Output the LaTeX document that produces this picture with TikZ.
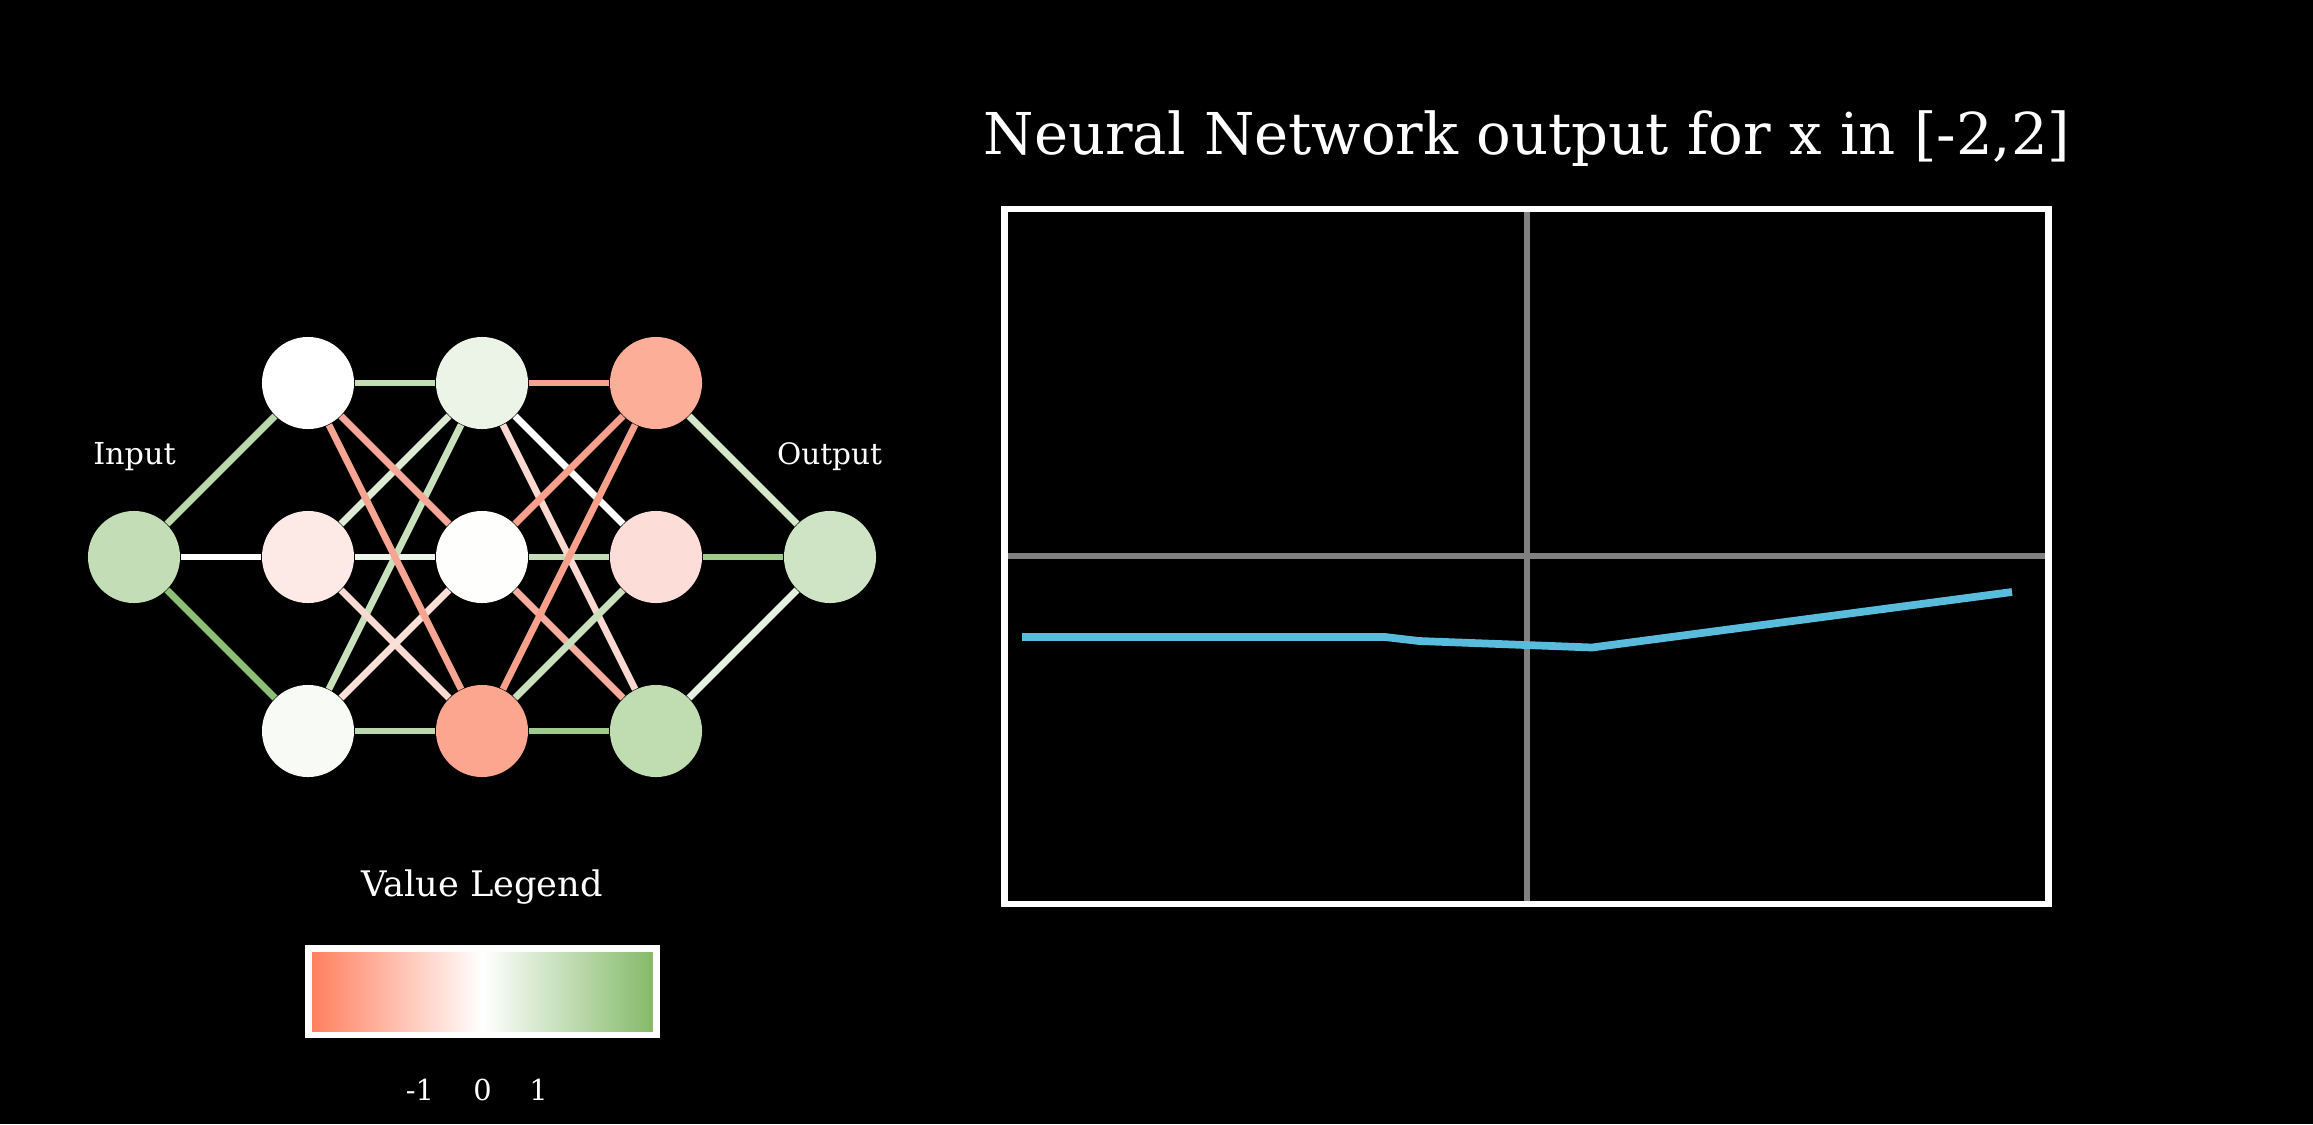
\documentclass[tikz,border=0pt]{standalone}
\usepackage{fontspec}
\setmainfont{DejaVu Serif}
\usetikzlibrary{backgrounds}
\definecolor{nI}{HTML}{C3DEB6}
\definecolor{nAa}{HTML}{FFFFFF}
\definecolor{nAb}{HTML}{FDEAE6}
\definecolor{nAc}{HTML}{F7FAF5}
\definecolor{nBa}{HTML}{EBF4E7}
\definecolor{nBb}{HTML}{FEFEFC}
\definecolor{nBc}{HTML}{FCA690}
\definecolor{nCa}{HTML}{FDAE98}
\definecolor{nCb}{HTML}{FDDDD8}
\definecolor{nCc}{HTML}{C0DDB1}
\definecolor{nO}{HTML}{CEE4C4}
\definecolor{legred}{HTML}{FF7F5E}
\definecolor{leggreen}{HTML}{84BA69}
\definecolor{curveblue}{HTML}{5ABCDC}
\definecolor{axisgray}{HTML}{808080}
\begin{document}
\begin{tikzpicture}[x=0.01cm,y=-0.01cm,
  neuron/.style={circle, minimum size=0.92cm, inner sep=0pt, draw=none},
  wire/.style={line width=1.95pt},
  lbl/.style={text=white, inner sep=0pt, anchor=base},
  frame/.style={draw=white, line width=1.9pt},
  axisline/.style={draw=axisgray, line width=1.85pt}]
% neurons
\node[neuron, fill=nI]  (i)  at (134,557) {};
\node[neuron, fill=nAa] (a1) at (308,383) {};
\node[neuron, fill=nAb] (a2) at (308,557) {};
\node[neuron, fill=nAc] (a3) at (308,731) {};
\node[neuron, fill=nBa] (b1) at (482,383) {};
\node[neuron, fill=nBb] (b2) at (482,557) {};
\node[neuron, fill=nBc] (b3) at (482,731) {};
\node[neuron, fill=nCa] (c1) at (656,383) {};
\node[neuron, fill=nCb] (c2) at (656,557) {};
\node[neuron, fill=nCc] (c3) at (656,731) {};
\node[neuron, fill=nO]  (o)  at (830,557) {};
\begin{scope}[on background layer]
\fill[black] (0,0) rectangle (2313,1124);
\draw[wire, color={rgb,255:red,187;green,216;blue,172}] (i) -- (a1);
\draw[wire, color=white] (i) -- (a2);
\draw[wire, color={rgb,255:red,140;green,191;blue,115}] (i) -- (a3);
\draw[wire, color={rgb,255:red,196;green,221;blue,182}] (a1) -- (b1);
\draw[wire, color={rgb,255:red,238;green,245;blue,234}] (a2) -- (b2);
\draw[wire, color={rgb,255:red,188;green,217;blue,174}] (a3) -- (b3);
\draw[wire, color={rgb,255:red,221;green,235;blue,213}] (a2) -- (b1);
\draw[wire, color={rgb,255:red,200;green,224;blue,188}] (a3) -- (b1);
\draw[wire, color={rgb,255:red,250;green,218;blue,211}] (a2) -- (b3);
\draw[wire, color={rgb,255:red,251;green,224;blue,218}] (a3) -- (b2);
\draw[wire, color={rgb,255:red,245;green,168;blue,152}] (a1) -- (b2);
\draw[wire, color={rgb,255:red,246;green,165;blue,147}] (a1) -- (b3);
\draw[wire, color={rgb,255:red,247;green,163;blue,144}] (b1) -- (c1);
\draw[wire, color={rgb,255:red,196;green,221;blue,183}] (b2) -- (c2);
\draw[wire, color={rgb,255:red,159;green,202;blue,139}] (b3) -- (c3);
\draw[wire, color=white] (b1) -- (c2);
\draw[wire, color={rgb,255:red,249;green,216;blue,209}] (b1) -- (c3);
\draw[wire, color={rgb,255:red,247;green,173;blue,158}] (b2) -- (c3);
\draw[wire, color={rgb,255:red,201;green,224;blue,190}] (b3) -- (c2);
\draw[wire, color={rgb,255:red,248;green,160;blue,139}] (b2) -- (c1);
\draw[wire, color={rgb,255:red,247;green,160;blue,140}] (b3) -- (c1);
\draw[wire, color={rgb,255:red,213;green,231;blue,203}] (c1) -- (o);
\draw[wire, color={rgb,255:red,159;green,203;blue,138}] (c2) -- (o);
\draw[wire, color={rgb,255:red,230;green,240;blue,224}] (c3) -- (o);
\end{scope}
% labels
\node[lbl, font=\fontsize{8.6}{10}\selectfont] (inlbl) at (134.5,464) {Input};
\node[lbl, font=\fontsize{8.4}{10}\selectfont] (outlbl) at (829.5,464) {Output};
\node[lbl, font=\fontsize{10}{12}\selectfont] (leglbl) at (482,896.7) {Value Legend};
% legend bar
\shade[left color=legred, right color=leggreen, middle color=white] (311.7,951.7) rectangle (653.3,1031.7);
\draw[frame] (308.5,948.5) rectangle (656.5,1035);
\node[lbl, font=\fontsize{8.2}{10}\selectfont] (lm1) at (420,1100) {-1};
\node[lbl, font=\fontsize{8.2}{10}\selectfont] (l0) at (482.5,1100) {0};
\node[lbl, font=\fontsize{8.2}{10}\selectfont] (lp1) at (538.5,1100) {1};
% plot
\node[lbl, font=\fontsize{16.4}{20}\selectfont] (title) at (1527,154) {Neural Network output for x in [-2,2]};
\draw[axisline] (1527,209) -- (1527,904);
\draw[axisline] (1004.5,556) -- (2048.5,556);
\draw[curveblue, line width=2.2pt, line join=round] (1022,637) -- (1385,637) -- (1419,641) -- (1592,647.5) -- (2012,592);
\draw[frame] (1004.5,209) rectangle (2048.5,904);
\end{tikzpicture}
\end{document}
